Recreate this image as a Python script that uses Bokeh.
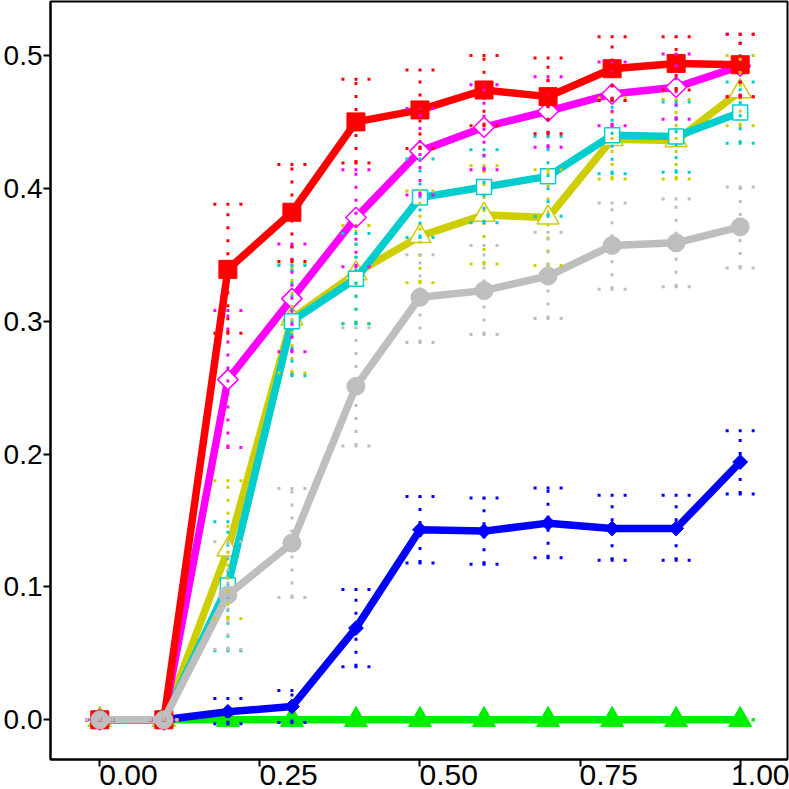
import numpy as np
from bokeh.plotting import figure
from bokeh.models import Range1d, FixedTicker, PrintfTickFormatter, LinearAxis, CustomJSTickFormatter
from bokeh.embed import file_html
from bokeh.resources import INLINE

x_vals = [0.0, 0.1, 0.2, 0.3, 0.4, 0.5, 0.6, 0.7, 0.8, 0.9, 1.0]

red_mean = [0, 0, 0.339, 0.382, 0.450, 0.459, 0.474, 0.469, 0.490, 0.494, 0.493]
red_lo   = [0, 0, 0.291, 0.345, 0.419, 0.430, 0.447, 0.441, 0.466, 0.474, 0.469]
red_hi   = [0, 0, 0.388, 0.418, 0.482, 0.489, 0.500, 0.498, 0.514, 0.514, 0.516]

magenta_mean = [0, 0, 0.256, 0.317, 0.378, 0.428, 0.446, 0.458, 0.471, 0.476, 0.492]
magenta_lo   = [0, 0, 0.205, 0.277, 0.341, 0.395, 0.414, 0.431, 0.447, 0.452, 0.469]
magenta_hi   = [0, 0, 0.308, 0.358, 0.414, 0.460, 0.478, 0.484, 0.495, 0.501, 0.516]

cyan_mean = [0, 0, 0.101, 0.300, 0.332, 0.393, 0.401, 0.409, 0.440, 0.439, 0.457]
cyan_lo   = [0, 0, 0.052, 0.259, 0.298, 0.363, 0.374, 0.379, 0.411, 0.412, 0.434]
cyan_hi   = [0, 0, 0.149, 0.342, 0.366, 0.422, 0.429, 0.439, 0.466, 0.465, 0.480]

yellow_mean = [0, 0, 0.128, 0.302, 0.336, 0.364, 0.380, 0.378, 0.437, 0.436, 0.473]
yellow_lo   = [0, 0, 0.076, 0.261, 0.298, 0.329, 0.343, 0.342, 0.407, 0.407, 0.447]
yellow_hi   = [0, 0, 0.180, 0.343, 0.372, 0.398, 0.417, 0.414, 0.468, 0.467, 0.500]

grey_mean = [0, 0, 0.094, 0.133, 0.251, 0.318, 0.323, 0.334, 0.357, 0.359, 0.371]
grey_lo   = [0, 0, 0.053, 0.092, 0.206, 0.284, 0.290, 0.302, 0.324, 0.326, 0.340]
grey_hi   = [0, 0, 0.134, 0.174, 0.295, 0.350, 0.357, 0.367, 0.389, 0.392, 0.401]

blue_mean = [0, 0, 0.006, 0.010, 0.069, 0.143, 0.142, 0.148, 0.144, 0.144, 0.194]
blue_lo   = [0, 0, -0.003, -0.002, 0.040, 0.118, 0.117, 0.122, 0.120, 0.120, 0.170]
blue_hi   = [0, 0, 0.016, 0.022, 0.098, 0.168, 0.167, 0.1745, 0.169, 0.169, 0.2175]

green_mean = [0, 0, 0, 0, 0, 0, 0, 0, 0, 0, 0]
green_lo   = [0, 0, 0, 0, 0, 0, 0, 0, 0, 0, 0]
green_hi   = [0, 0, 0, 0, 0, 0, 0, 0, 0, 0, 0]

x_ticks = [0.0, 0.25, 0.5, 0.75, 1.0]
x_tick_labels = ["0.00", "0.25", "0.50", "0.75", "1.00"]
y_ticks = [0.0, 0.1, 0.2, 0.3, 0.4, 0.5]

W, H = 789, 789
BL, BR, BT, BB = 50, 2, 1, 30
X0, X1 = -0.0770, 1.0739
Y0, Y1 = -0.02988, 0.5406
xscale = (W - BL - BR) / (X1 - X0)

p = figure(width=W, height=H, output_backend="svg", toolbar_location=None,
           x_range=Range1d(X0, X1), y_range=Range1d(Y0, Y1),
           min_border_left=BL, min_border_right=BR, min_border_top=BT, min_border_bottom=BB)
p.grid.visible = False
p.background_fill_color = "white"
p.border_fill_color = "white"
p.outline_line_color = "black"
p.outline_line_width = 2

FONT = "Liberation Sans"
p.yaxis.ticker = FixedTicker(ticks=y_ticks)
p.yaxis.formatter = PrintfTickFormatter(format="%.1f")
p.yaxis.major_label_text_font = FONT
p.yaxis.major_label_text_font_size = "28px"
p.yaxis.major_label_text_color = "black"
p.yaxis.major_label_standoff = 1
p.yaxis.major_tick_out = 7
p.yaxis.major_tick_in = 0
p.yaxis.minor_tick_line_color = None
p.yaxis.major_tick_line_width = 2
p.yaxis.axis_line_width = 2

# inner bottom axis: tick marks only
p.xaxis.ticker = FixedTicker(ticks=x_ticks)
p.xaxis.formatter = CustomJSTickFormatter(code="return ''")
p.xaxis.major_label_text_font_size = "1px"
p.xaxis.major_label_standoff = 0
p.xaxis.major_tick_out = 7
p.xaxis.major_tick_in = 0
p.xaxis.minor_tick_line_color = None
p.xaxis.major_tick_line_width = 2
p.xaxis.axis_line_width = 2

# outer bottom axis: labels, which in the reference start at their tick
shift = 28.7 / xscale
p.extra_x_ranges = {"lab": Range1d(X0 - shift, X1 - shift)}
lab_axis = LinearAxis(x_range_name="lab", ticker=FixedTicker(ticks=x_ticks),
                      major_label_overrides={t: s for t, s in zip(x_ticks, x_tick_labels)},
                      major_tick_out=0, major_tick_in=0, axis_line_color=None,
                      major_tick_line_color=None, minor_tick_line_color=None,
                      major_label_text_font=FONT, major_label_text_font_size="30px",
                      major_label_text_color="black", major_label_standoff=-2)
p.add_layout(lab_axis, "below")

series = [
    ("#00EE00", green_mean, green_lo, green_hi, "triangle", 23, 0.0, "#00EE00", 1),
    ("#0000FF", blue_mean, blue_lo, blue_hi, "square", 10.5, np.pi / 4, "#0000FF", 1),
    ("#CDCD00", yellow_mean, yellow_lo, yellow_hi, "triangle", 22, 0.0, "white", 1.5),
    ("#00CDCD", cyan_mean, cyan_lo, cyan_hi, "square", 15, 0.0, "white", 1.5),
    ("#FF00FF", magenta_mean, magenta_lo, magenta_hi, "square", 14.5, np.pi / 4, "white", 1.5),
    ("#FF0000", red_mean, red_lo, red_hi, "square", 18, 0.0, "#FF0000", 1),
    ("#BEBEBE", grey_mean, grey_lo, grey_hi, "circle", 18, 0.0, "#BEBEBE", 1),
]

for color, mean, lo, hi, marker, size, angle, fill, mlw in series:
    p.line(x_vals, mean, line_color=color, line_width=7.5, line_join="round", line_cap="round")
    p.scatter(x_vals, mean, marker=marker, size=size, angle=angle,
              fill_color=fill, line_color=color, line_width=mlw)

cap_half = 14.5 / xscale
xa = np.array(x_vals)
for color, mean, lo, hi, marker, size, angle, fill, mlw in series:
    p.segment(x0=xa, y0=lo, x1=xa, y1=hi, line_color=color, line_width=3, line_dash="3 10")
    p.segment(x0=xa - cap_half, y0=hi, x1=xa + cap_half, y1=hi, line_color=color,
              line_width=3, line_dash="3 10")
    p.segment(x0=xa - cap_half, y0=lo, x1=xa + cap_half, y1=lo, line_color=color,
              line_width=3, line_dash="3 10")

open("out.html", "w").write(file_html(p, INLINE))
